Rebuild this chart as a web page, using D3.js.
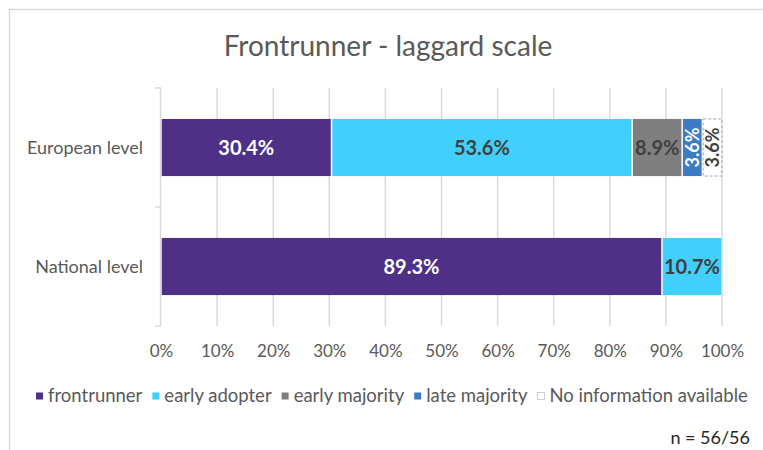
<!DOCTYPE html>
<html>
<head>
<meta charset="utf-8">
<script src="https://cdn.jsdelivr.net/npm/d3@7"></script>
<style>
  html, body { margin: 0; padding: 0; background: #fff; }
  svg { display: block; font-family: Lato, "Open Sans", sans-serif; }
</style>
</head>
<body>
<svg id="chart" width="763" height="450"></svg>
<script>
// Categories (top to bottom) and stacked segments
const categories = ["European level", "National level"];
const seriesNames = ["frontrunner", "early adopter", "early majority", "late majority", "No information available"];
const europeanValues = [30.4, 53.6, 8.9, 3.6, 3.6];
const nationalValues = [89.3, 10.7, 0, 0, 0];
const tickValues = [0, 10, 20, 30, 40, 50, 60, 70, 80, 90, 100];
const sampleNote = "n = 56/56";

const fills = ["#4e3187", "#41d0fd", "#7f7f7f", "#3b7cc4", "#ffffff"];
const labelColors = ["#ffffff", "#404040", "#404040", "#ffffff", "#404040"];

const svg = d3.select("#chart");
const W = 763, H = 450;

// outer frame (top and left edges visible)
svg.append("path")
  .attr("d", `M9.5,${H} V9.5 H${W}`)
  .attr("fill", "none").attr("stroke", "#d9d9d9").attr("stroke-width", 1.5);

// title
svg.append("text")
  .attr("x", 388).attr("y", 56)
  .attr("text-anchor", "middle")
  .attr("font-size", 28)
  .attr("fill", "#595959")
  .text("Frontrunner - laggard scale");

const margin = { left: 161, right: 722, top: 88, bottom: 326 };
const x = d3.scaleLinear().domain([0, 100]).range([margin.left, margin.right]);
const y = d3.scaleBand().domain(categories).range([margin.top, margin.bottom]).paddingInner(0.52).paddingOuter(0.26);

// vertical gridlines
svg.append("g").selectAll("line")
  .data(tickValues.filter(d => d > 0))
  .join("line")
  .attr("x1", d => x(d)).attr("x2", d => x(d))
  .attr("y1", margin.top).attr("y2", margin.bottom)
  .attr("stroke", "#d9d9d9").attr("stroke-width", 1.5);

// x tick labels
const xAxis = svg.append("g")
  .attr("transform", `translate(0,${margin.bottom})`)
  .call(d3.axisBottom(x).tickValues(tickValues).tickFormat(d => d + "%").tickSize(0).tickPadding(19));
xAxis.select(".domain").remove();
xAxis.selectAll("text").attr("font-size", 17).attr("fill", "#595959").attr("font-family", "Lato, 'Open Sans', sans-serif");

// y axis line with category separators
const yStep = (margin.bottom - margin.top) / categories.length;
const yAxisG = svg.append("g");
yAxisG.append("line")
  .attr("x1", margin.left - 0.5).attr("x2", margin.left - 0.5)
  .attr("y1", margin.top).attr("y2", margin.bottom)
  .attr("stroke", "#d9d9d9").attr("stroke-width", 1.5);
yAxisG.selectAll("line.sep")
  .data(d3.range(categories.length + 1))
  .join("line").attr("class", "sep")
  .attr("x1", margin.left - 6).attr("x2", margin.left)
  .attr("y1", i => margin.top + i * yStep).attr("y2", i => margin.top + i * yStep)
  .attr("stroke", "#d9d9d9").attr("stroke-width", 1.5);

// category labels
svg.append("g").selectAll("text")
  .data(categories)
  .join("text")
  .attr("x", 143)
  .attr("y", d => y(d) + y.bandwidth() / 2)
  .attr("dy", "0.35em")
  .attr("text-anchor", "end")
  .attr("font-size", 18)
  .attr("fill", "#595959")
  .text(d => d);

// stacked bars
const rows = [
  Object.fromEntries([["cat", categories[0]], ...seriesNames.map((s, i) => [s, europeanValues[i]])]),
  Object.fromEntries([["cat", categories[1]], ...seriesNames.map((s, i) => [s, nationalValues[i]])])
];
const stacked = d3.stack().keys(seriesNames)(rows);

const layers = svg.append("g").selectAll("g.layer")
  .data(stacked)
  .join("g").attr("class", "layer");

layers.each(function (layer, li) {
  const g = d3.select(this);
  const segs = layer.filter(d => d[1] - d[0] > 0);
  g.selectAll("rect")
    .data(segs)
    .join("rect")
    .attr("x", d => x(d[0]) + 0.75)
    .attr("y", d => y(d.data.cat))
    .attr("width", d => Math.max(0, x(d[1]) - x(d[0]) - 1.5))
    .attr("height", y.bandwidth())
    .attr("fill", fills[li])
    .attr("stroke", li === 4 ? "#a6a6a6" : "none")
    .attr("stroke-dasharray", li === 4 ? "3,2" : null)
    .attr("stroke-width", 1);

  g.selectAll("text")
    .data(segs)
    .join("text")
    .attr("transform", d => {
      const cx = (x(d[0]) + x(d[1])) / 2;
      const cy = y(d.data.cat) + y.bandwidth() / 2;
      const narrow = (x(d[1]) - x(d[0])) < 40;
      return narrow ? `translate(${cx},${cy}) rotate(-90)` : `translate(${cx},${cy})`;
    })
    .attr("dy", "0.35em")
    .attr("text-anchor", "middle")
    .attr("font-size", d => (x(d[1]) - x(d[0])) < 40 ? 18 : 20)
    .attr("font-weight", "bold")
    .attr("fill", labelColors[li])
    .text(d => (d[1] - d[0]).toFixed(1) + "%");
});

// legend
const legend = svg.append("g").attr("transform", "translate(36,396)");
let lx = 0;
seriesNames.forEach((name, i) => {
  const item = legend.append("g").attr("transform", `translate(${lx},0)`);
  item.append("rect")
    .attr("x", 0).attr("y", -3.5).attr("width", 7).attr("height", 7)
    .attr("fill", fills[i])
    .attr("stroke", i === 4 ? "#a6a6a6" : "none")
    .attr("stroke-dasharray", i === 4 ? "2,1" : null)
    .attr("stroke-width", 0.8);
  const t = item.append("text")
    .attr("x", 12).attr("y", 0).attr("dy", "0.35em")
    .attr("font-size", 18.5).attr("fill", "#595959")
    .text(name);
  lx += 12 + t.node().getComputedTextLength() + 10;
});

// sample size note
svg.append("text")
  .attr("x", 750).attr("y", 438)
  .attr("dy", "0.35em")
  .attr("text-anchor", "end")
  .attr("font-size", 18).attr("fill", "#262626")
  .text(sampleNote);
</script>
</body>
</html>
